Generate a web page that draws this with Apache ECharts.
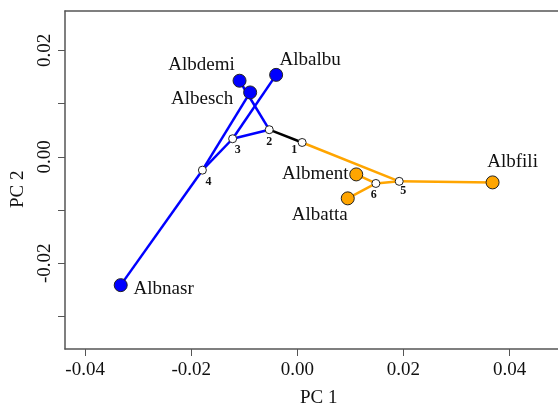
<!DOCTYPE html>
<html>
<head>
<meta charset="utf-8">
<script src="https://cdn.jsdelivr.net/npm/echarts@6/dist/echarts.min.js"></script>
<style>
  html, body { margin: 0; padding: 0; background: #fff; overflow: hidden; }
  #pca { width: 600px; height: 411px; }
</style>
</head>
<body>
<div id="pca"></div>
<script>
// tips (populations)
var tipNames = ['Albdemi', 'Albesch', 'Albalbu', 'Albnasr', 'Albment', 'Albatta', 'Albfili'];
var tipPC1 = [-0.0109, -0.0089, -0.0040, -0.0333, 0.0111, 0.0095, 0.0368];
var tipPC2 = [0.0143, 0.0121, 0.0154, -0.0241, -0.0033, -0.0078, -0.0048];
var tipClade = ['blue', 'blue', 'blue', 'blue', 'orange', 'orange', 'orange'];

// internal nodes
var nodeNames = ['1', '2', '3', '4', '5', '6'];
var nodePC1 = [0.0009, -0.0053, -0.0122, -0.0179, 0.0192, 0.0148];
var nodePC2 = [0.0027, 0.0051, 0.0034, -0.0025, -0.0046, -0.0050];

// tree edges
var edgeFrom = ['2', '2', '2', '3', '3', '4', '4', '1', '5', '5', '6', '6'];
var edgeTo = ['1', 'Albdemi', '3', 'Albalbu', '4', 'Albesch', 'Albnasr', '5', 'Albfili', '6', 'Albment', 'Albatta'];
var edgeClade = ['root', 'blue', 'blue', 'blue', 'blue', 'blue', 'blue', 'orange', 'orange', 'orange', 'orange', 'orange'];

// axis ticks
var xTicks = [-0.04, -0.02, 0.00, 0.02, 0.04];
var yTicks = [-0.03, -0.02, -0.01, 0.00, 0.01, 0.02];
var yLabels = [-0.02, 0.00, 0.02];

var cladeColor = { blue: '#0000ff', orange: '#ffa500', root: '#000000' };
var serif = '"Liberation Serif", "Times New Roman", serif';

// label offsets so the names sit like in the figure
var tipOffset = {
    Albdemi: [-38, -16],
    Albesch: [-48, 7],
    Albalbu: [34, -15],
    Albnasr: [43, 4],
    Albment: [-41, 0],
    Albatta: [-28, 17],
    Albfili: [20, -20]
};
var nodeOffset = {
    '1': [-8, 7],
    '2': [0, 12],
    '3': [5, 11],
    '4': [6, 12],
    '5': [4, 10],
    '6': [-2, 11]
};

var pos = {};
tipNames.forEach(function (n, i) { pos[n] = [tipPC1[i], tipPC2[i]]; });
nodeNames.forEach(function (n, i) { pos[n] = [nodePC1[i], nodePC2[i]]; });

// the plot box runs past the right edge of the figure, so the canvas is a bit wider than the window
var chart = echarts.init(document.getElementById('pca'), null, { renderer: 'canvas' });

var frameLine = { show: true, onZero: false, lineStyle: { color: '#555', width: 1.5 } };

var option = {
    animation: false,
    backgroundColor: '#fff',
    grid: {
        left: 65,
        top: 11,
        width: 497.6,
        height: 338,
        outerBoundsMode: 'none',
        containLabel: false,
        show: false
    },
    xAxis: [
        {
            type: 'value',
            position: 'bottom',
            min: -0.0438,
            max: 0.05,
            axisLine: frameLine,
            splitLine: { show: false },
            axisTick: {
                show: true,
                inside: false,
                length: 7,
                customValues: xTicks,
                lineStyle: { color: '#555', width: 1 }
            },
            axisLabel: {
                customValues: xTicks,
                margin: 12,
                color: '#111',
                fontFamily: serif,
                fontSize: 19,
                formatter: function (v) { return v.toFixed(2); }
            }
        },
        {
            // top edge of the box
            type: 'value',
            position: 'top',
            min: -0.0438,
            max: 0.05,
            axisLine: frameLine,
            splitLine: { show: false },
            axisTick: { show: false },
            axisLabel: { show: false }
        }
    ],
    yAxis: {
        type: 'value',
        min: -0.0361,
        max: 0.0274,
        axisLine: frameLine,
        splitLine: { show: false },
        axisTick: {
            show: true,
            inside: false,
            length: 7,
            customValues: yTicks,
            lineStyle: { color: '#555', width: 1 }
        },
        axisLabel: {
            customValues: yLabels,
            rotate: 90,
            margin: 10,
            color: '#111',
            fontFamily: serif,
            fontSize: 19,
            formatter: function (v) { return v.toFixed(2); }
        }
    },
    graphic: [
        {
            type: 'text',
            left: 300,
            top: 389,
            style: { text: 'PC 1', fill: '#111', font: '19px ' + serif }
        },
        {
            type: 'text',
            x: 9,
            y: 208,
            rotation: Math.PI / 2,
            style: { text: 'PC 2', fill: '#111', font: '19px ' + serif }
        }
    ],
    series: [
        {
            type: 'lines',
            coordinateSystem: 'cartesian2d',
            polyline: false,
            silent: true,
            z: 2,
            data: edgeFrom.map(function (a, i) {
                return {
                    coords: [pos[a], pos[edgeTo[i]]],
                    lineStyle: { color: cladeColor[edgeClade[i]], width: 2.5, opacity: 1 }
                };
            })
        },
        {
            type: 'scatter',
            z: 3,
            symbol: 'circle',
            symbolSize: 8,
            itemStyle: { color: '#fff', borderColor: '#222', borderWidth: 1, opacity: 1 },
            label: {
                show: true,
                position: 'inside',
                formatter: '{b}',
                color: '#111',
                fontFamily: serif,
                fontWeight: 'bold',
                fontSize: 12
            },
            data: nodeNames.map(function (n, i) {
                return {
                    name: n,
                    value: [nodePC1[i], nodePC2[i]],
                    label: { offset: nodeOffset[n] }
                };
            })
        },
        {
            type: 'scatter',
            z: 4,
            symbol: 'circle',
            symbolSize: 13,
            itemStyle: { borderColor: '#222', borderWidth: 1, opacity: 1 },
            label: {
                show: true,
                position: 'inside',
                formatter: '{b}',
                color: '#111',
                fontFamily: serif,
                fontSize: 19
            },
            data: tipNames.map(function (n, i) {
                return {
                    name: n,
                    value: [tipPC1[i], tipPC2[i]],
                    itemStyle: { color: cladeColor[tipClade[i]] },
                    label: { offset: tipOffset[n] }
                };
            })
        }
    ]
};

chart.setOption(option);
</script>
</body>
</html>
